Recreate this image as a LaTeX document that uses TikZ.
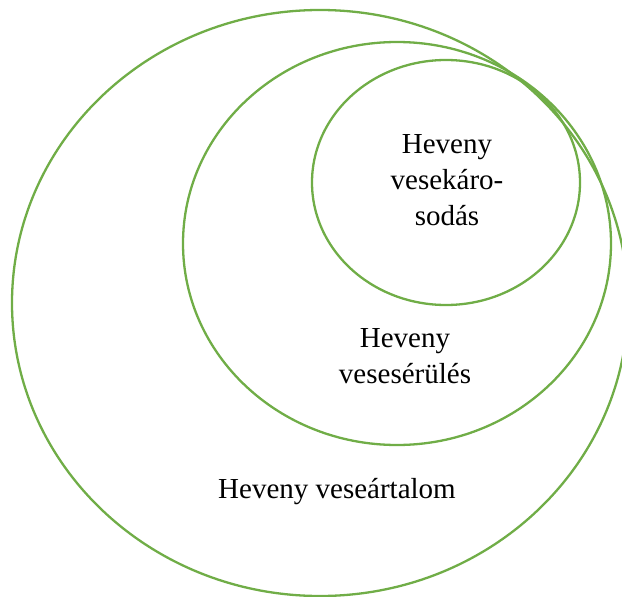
\documentclass[tikz,border=0pt]{standalone}
\usepackage{fontspec}
\setmainfont{Liberation Serif}
\definecolor{zold}{HTML}{70AD47}
\begin{document}
\begin{tikzpicture}[x=1pt,y=-1pt]
        \useasboundingbox (0,0) rectangle (622,597);
        \clip (0,0) rectangle (622,597);
        \tikzset{kor/.style={line width=2.3pt, zold},
                 felirat/.style={align=center, font=\fontsize{29}{36}\selectfont}}

        % Dibujar las elipses anidadas
        \draw[kor] (320,303) ellipse [x radius=308, y radius=293];
        \draw[kor] (397,243.5) ellipse [x radius=214, y radius=201.5];
        \draw[kor] (446,182.5) ellipse [x radius=134, y radius=122.5];

        % Etiquetas de los conjuntos
        \node[felirat] (kozep) at (447,180) {Heveny\\vesekáro-\\sodás};
        \node[felirat] (serules) at (405,356) {Heveny\\vesesérülés};
        \node[felirat] (artalom) at (337,492) {Heveny veseártalom};
    \end{tikzpicture}
\end{document}
